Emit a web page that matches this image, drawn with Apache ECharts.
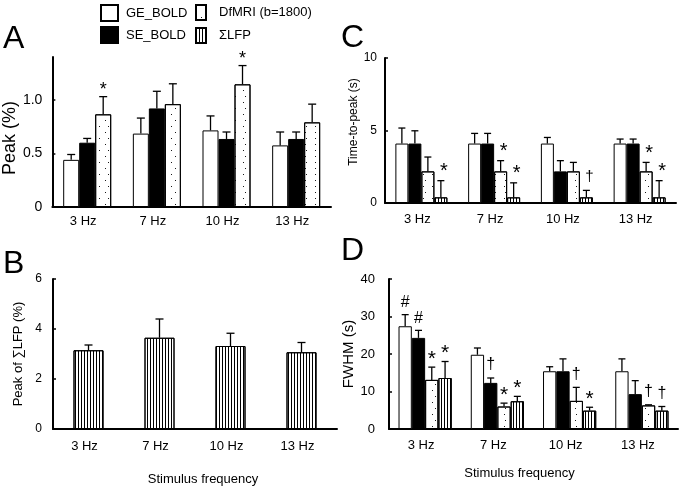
<!DOCTYPE html>
<html><head><meta charset="utf-8">
<script src="https://cdn.jsdelivr.net/npm/echarts@6/dist/echarts.min.js"></script>
<style>html,body{margin:0;padding:0;background:#fff}#c{width:680px;height:489px}</style>
</head><body><div id="c"></div>
<script>
// ---------- data ----------
const categories = ['3 Hz', '7 Hz', '10 Hz', '13 Hz'];
const seriesNames = ['GE_BOLD', 'SE_BOLD', 'DfMRI (b=1800)', 'ΣLFP'];

// Panel A: Peak (%)
const peakGE = [0.44, 0.685, 0.715, 0.575];
const peakGEErr = [0.05, 0.145, 0.135, 0.125];
const peakSE = [0.60, 0.92, 0.635, 0.635];
const peakSEErr = [0.04, 0.16, 0.065, 0.065];
const peakDf = [0.865, 0.96, 1.145, 0.79];
const peakDfErr = [0.165, 0.19, 0.175, 0.17];
const peakDfMarks = ['*', '', '*', ''];

// Panel B: Peak of ΣLFP (%)
const lfpPeak = [3.15, 3.65, 3.32, 3.07];
const lfpPeakErr = [0.21, 0.75, 0.51, 0.39];

// Panel C: Time-to-peak (s)
const ttpGE = [4.1, 4.1, 4.1, 4.1];
const ttpGEErr = [1.07, 0.7, 0.42, 0.31];
const ttpSE = [4.1, 4.1, 2.18, 4.1];
const ttpSEErr = [0.88, 0.7, 0.74, 0.31];
const ttpDf = [2.18, 2.18, 2.18, 2.18];
const ttpDfErr = [0.99, 0.74, 0.62, 0.62];
const ttpDfMarks = ['', '*', '', '*'];
const ttpLFP = [0.39, 0.39, 0.39, 0.39];
const ttpLFPErr = [1.15, 1.0, 0.48, 1.15];
const ttpLFPMarks = ['*', '*', '†', '*'];

// Panel D: FWHM (s)
const fwhmGE = [27.4, 19.8, 15.4, 15.4];
const fwhmGEErr = [3.1, 1.8, 1.2, 3.3];
const fwhmGEMarks = ['#', '', '', ''];
const fwhmSE = [24.3, 12.3, 15.4, 9.3];
const fwhmSEErr = [2.0, 1.3, 3.3, 3.6];
const fwhmSEMarks = ['#', '†', '', ''];
const fwhmDf = [13.1, 6.0, 7.5, 6.3];
const fwhmDfErr = [3.4, 0.9, 3.6, 0.15];
const fwhmDfMarks = ['*', '*', '†', '†'];
const fwhmLFP = [13.6, 7.4, 4.9, 4.9];
const fwhmLFPErr = [4.4, 1.3, 0.9, 1.1];
const fwhmLFPMarks = ['*', '*', '*', '†'];

// ---------- styles ----------
const FONT = 'Liberation Sans, Arial, Helvetica, sans-serif';
const dotDecal = { symbol: 'rect', symbolSize: 0.9, color: '#000',
  dashArrayX: [[1, 8], [0, 4.5, 1, 3.5]], dashArrayY: [1, 5] };
const stripeDecal = { symbol: 'rect', symbolSize: 1, color: '#000',
  dashArrayX: [1, 2], dashArrayY: [4, 0] };
const STY = [
  { color: '#fff', borderColor: '#000', borderWidth: 1 },
  { color: '#000', borderColor: '#000', borderWidth: 1 },
  { color: '#fff', borderColor: '#000', borderWidth: 1, decal: dotDecal },
  { color: '#fff', borderColor: '#000', borderWidth: 1, decal: stripeDecal }
];

const panels = [
  { grid: { left: 50, top: 57, width: 281, height: 150 }, max: 1.4, interval: 0.5,
    custom: [0, 0.5, 1], fmt: v => (v === 0 ? '0' : v.toFixed(1)),
    labelSize: 14, labelMargin: 10, name: 'Peak (%)', nameSize: 18, nameGap: 32, namePad: [0, 12, 0, 0],
    barW: 16, cap: 4, markSize: 14, markUp: 11, markDx: 0, catMargin: 8,
    xName: '', series: [[0, peakGE, peakGEErr, null], [1, peakSE, peakSEErr, null], [2, peakDf, peakDfErr, peakDfMarks]] },
  { grid: { left: 53, top: 279, width: 284, height: 150 }, max: 6, interval: 2,
    labelSize: 12, labelMargin: 11, name: 'Peak of ∑LFP (%)', nameSize: 13, nameGap: 28,
    barW: 30, cap: 4, markSize: 14, markUp: 11, markDx: 0, catMargin: 11,
    xName: 'Stimulus frequency', xNameGap: 44, xNamePad: [0, 0, 0, 16],
    series: [[3, lfpPeak, lfpPeakErr, null]] },
  { grid: { left: 385, top: 58, width: 291, height: 145 }, max: 10, interval: 5,
    labelSize: 12, labelMargin: 8, name: 'Time-to-peak (s)', nameSize: 12, nameGap: 24, namePad: [0, 0, 0, 17],
    barW: 13, cap: 3.5, markSize: 15, markUp: 13, markDx: 3, catMargin: 10,
    xName: '', series: [[0, ttpGE, ttpGEErr, null], [1, ttpSE, ttpSEErr, null], [2, ttpDf, ttpDfErr, ttpDfMarks], [3, ttpLFP, ttpLFPErr, ttpLFPMarks]] },
  { grid: { left: 389, top: 279, width: 289, height: 150 }, max: 40, interval: 10,
    labelSize: 13, labelMargin: 14, name: 'FWHM (s)', nameSize: 15, nameGap: 31,
    barW: 13.3, cap: 3.5, markSize: 16, markUp: 12, markDx: 0, catMargin: 10,
    xName: 'Stimulus frequency', xNameGap: 38, xNamePad: [0, 28, 0, 0],
    series: [[0, fwhmGE, fwhmGEErr, fwhmGEMarks], [1, fwhmSE, fwhmSEErr, fwhmSEMarks], [2, fwhmDf, fwhmDfErr, fwhmDfMarks], [3, fwhmLFP, fwhmLFPErr, fwhmLFPMarks]] }
];

const grid = [], xAxis = [], yAxis = [], series = [];
const glyphNudge = { '*': 4, '#': 0, '†': -1 };
const glyphScale = { '*': 1.3, '#': 1, '†': 1 };

panels.forEach((p, g) => {
  grid.push(Object.assign({ containLabel: false }, p.grid));
  xAxis.push({
    gridIndex: g, type: 'category', data: categories,
    axisLine: { lineStyle: { color: '#000', width: 2 } },
    axisTick: { show: false },
    axisLabel: { fontSize: 13, color: '#000', fontFamily: FONT, margin: p.catMargin, padding: [0, 8, 0, 0] },
    name: p.xName, nameLocation: 'middle', nameGap: p.xNameGap || 30,
    nameTextStyle: { fontSize: 13, color: '#000', fontFamily: FONT, padding: p.xNamePad || 0 }
  });
  const ya = {
    gridIndex: g, type: 'value', min: 0, max: p.max, interval: p.interval,
    axisLine: { show: true, lineStyle: { color: '#000', width: 2 } },
    axisTick: { show: true, inside: true, length: 3, lineStyle: { color: '#000', width: 1.5 } },
    splitLine: { show: false },
    axisLabel: { fontSize: p.labelSize, color: '#000', fontFamily: FONT, margin: p.labelMargin },
    name: p.name, nameLocation: 'middle', nameRotate: 90, nameGap: p.nameGap,
    nameTextStyle: { fontSize: p.nameSize, color: '#000', fontFamily: FONT, padding: p.namePad || 0 }
  };
  if (p.custom) {
    ya.axisLabel.customValues = p.custom;
    ya.axisTick.customValues = p.custom;
    ya.axisLabel.formatter = p.fmt;
  }
  yAxis.push(ya);

  const n = p.series.length;
  p.series.forEach((s, k) => {
    const [si, vals, errs, marks] = s;
    series.push({
      type: 'bar', name: seriesNames[si], xAxisIndex: g, yAxisIndex: g,
      data: vals, barWidth: p.barW, barGap: '0%', itemStyle: STY[si], silent: true,
      animation: false
    });
    const off = (k - (n - 1) / 2) * p.barW;
    series.push({
      type: 'custom', xAxisIndex: g, yAxisIndex: g, z: 5, silent: true, animation: false,
      data: vals.map((v, i) => [i, v, v + errs[i]]),
      encode: { x: 0, y: [1, 2] },
      renderItem: function (params, api) {
        const i = api.value(0), v = api.value(1), e = api.value(2);
        const p0 = api.coord([i, v]), p1 = api.coord([i, e]);
        const x = p0[0] + off;
        const children = [
          { type: 'line', shape: { x1: x, y1: p0[1], x2: x, y2: p1[1] }, style: { stroke: '#000', lineWidth: 1.3 } },
          { type: 'line', shape: { x1: x - p.cap, y1: p1[1], x2: x + p.cap, y2: p1[1] }, style: { stroke: '#000', lineWidth: 1.3 } }
        ];
        const m = marks ? marks[params.dataIndex] : '';
        if (m) {
          children.push({ type: 'text', x: x + p.markDx, y: p1[1] - p.markUp + (glyphNudge[m] || 0),
            style: { text: m, fontSize: Math.round(p.markSize * (glyphScale[m] || 1)), fontFamily: FONT, fill: '#000', align: 'center', verticalAlign: 'middle' } });
        }
        return { type: 'group', children: children };
      }
    });
  });
});

const letter = (t, l, tp) => ({ text: t, left: l, top: tp, padding: 0,
  textStyle: { fontSize: 32, fontWeight: 'normal', color: '#000', fontFamily: FONT } });

const option = {
  animation: false,
  textStyle: { fontFamily: FONT },
  title: [letter('A', 3, 23), letter('B', 3, 248), letter('C', 341, 22), letter('D', 341, 235)],
  legend: [
    { data: [seriesNames[0], seriesNames[1]], orient: 'vertical', left: 100, top: 4, padding: 0,
      icon: 'rect', itemWidth: 17, itemHeight: 16, itemGap: 4, selectedMode: false,
      textStyle: { fontSize: 13, color: '#000', fontFamily: FONT, padding: [0, 0, 0, 3] } },
    { data: [seriesNames[2], seriesNames[3]], orient: 'vertical', left: 195, top: 4, padding: 0,
      icon: 'rect', itemWidth: 10, itemHeight: 15, itemGap: 6, selectedMode: false,
      textStyle: { fontSize: 13, color: '#000', fontFamily: FONT, padding: [0, 0, 0, 8] } }
  ],
  grid: grid, xAxis: xAxis, yAxis: yAxis, series: series
};

const chart = echarts.init(document.getElementById('c'), null, { renderer: 'canvas' });
chart.setOption(option);
</script></body></html>
